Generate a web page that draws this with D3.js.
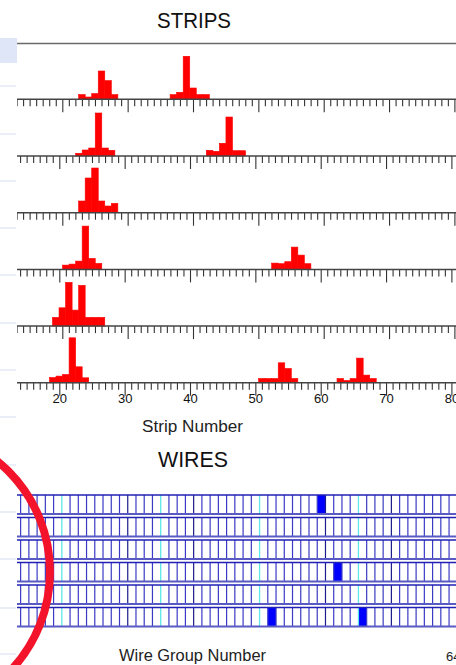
<!DOCTYPE html>
<html>
<head>
<meta charset="utf-8">
<script src="https://cdn.jsdelivr.net/npm/d3@7"></script>
<style>
  html, body { margin: 0; padding: 0; background: #ffffff; }
  svg { display: block; }
</style>
</head>
<body>
<script>
// ---- Strip charge per cathode layer (strip number, collected charge) ----
const layer1Strips = [23, 24, 25, 26, 27, 28, 37, 38, 39, 40, 41, 42];
const layer1Charge = [4.7, 2.3, 5.7, 28.3, 18.7, 4.7, 4.7, 7, 43, 11.3, 4.7, 4.7];
const layer2Strips = [23, 24, 25, 26, 27, 28, 43, 44, 45, 46, 47, 48];
const layer2Charge = [2.7, 6, 8, 43, 8, 5.7, 5.7, 4.7, 12.7, 39, 5.3, 5.3];
const layer3Strips = [23, 24, 25, 26, 27, 28];
const layer3Charge = [11.7, 34.7, 44.7, 11.7, 6.7, 9.3];
const layer4Strips = [21, 22, 23, 24, 25, 26, 53, 54, 55, 56, 57, 58];
const layer4Charge = [4.3, 5.3, 8.3, 43.3, 11, 6, 6.3, 5.7, 7.7, 22.3, 14.3, 5.7];
const layer5Strips = [19, 20, 21, 22, 23, 24, 25, 26];
const layer5Charge = [8.7, 18.3, 43.7, 16, 40.7, 8.7, 8.7, 8.7];
const layer6Strips = [19, 20, 21, 22, 23, 24, 51, 52, 53, 54, 55, 56, 63, 64, 65, 66, 67, 68];
const layer6Charge = [5.3, 6.7, 8.3, 45, 16, 5, 4.3, 4.3, 4.3, 20, 14.3, 4.3, 4.3, 2.3, 4.3, 24.7, 7.7, 4.3];

const stripTickLabels = [20, 30, 40, 50, 60, 70, 80];

// ---- Anode wire groups that fired, per layer ----
const layer1Wires = [48];
const layer2Wires = [];
const layer3Wires = [];
const layer4Wires = [50];
const layer5Wires = [];
const layer6Wires = [42, 53];
const wireSectorEdges = [4, 16, 28, 40, 52, 64];
const wireGroupCount = 64;

const stripLayers = [
  [layer1Strips, layer1Charge], [layer2Strips, layer2Charge], [layer3Strips, layer3Charge],
  [layer4Strips, layer4Charge], [layer5Strips, layer5Charge], [layer6Strips, layer6Charge]
];
const wireLayers = [layer1Wires, layer2Wires, layer3Wires, layer4Wires, layer5Wires, layer6Wires];

const W = 456, H = 665;
const FONT = "'Liberation Sans', Arial, sans-serif";
const svg = d3.select("body").append("svg").attr("width", W).attr("height", H);

// Side panel decorations on the left margin
svg.append("rect").attr("x", 0).attr("y", 38).attr("width", 17).attr("height", 25).attr("fill", "#dfe6f8");
const sideLines = [86, 134, 181, 228, 275, 323, 370, 417, 465, 512, 559, 608, 654];
svg.selectAll("line.side").data(sideLines).join("line")
  .attr("x1", 0).attr("x2", 16).attr("y1", d => d).attr("y2", d => d)
  .attr("stroke", "#e2e8f7").attr("stroke-width", 1.5);

// Clip region of the event display
svg.append("clipPath").attr("id", "clip").append("rect")
  .attr("x", 17).attr("y", 0).attr("width", W - 17).attr("height", H);
const g = svg.append("g").attr("clip-path", "url(#clip)");

// ---------------- STRIPS ----------------
g.append("text").attr("x", 194).attr("y", 27.5).attr("text-anchor", "middle")
  .attr("font-family", FONT).attr("font-size", 22).attr("fill", "#111")
  .attr("textLength", 74).attr("lengthAdjust", "spacingAndGlyphs").text("STRIPS");
g.append("line").attr("x1", 17).attr("x2", W).attr("y1", 43.5).attr("y2", 43.5)
  .attr("stroke", "#6a6a6a").attr("stroke-width", 1.6);

const rowPitch = 56.7, firstBase = 99.3;
const pxPerStrip = 6.535;
const yq = d3.scaleLinear().domain([0, 45]).range([0, 45]);

stripLayers.forEach(([strips, charge], i) => {
  const base = firstBase + i * rowPitch;
  const x0 = (i % 2 === 0) ? 62.3 : 59.3;
  const xs = d3.scaleLinear().domain([20, 80]).range([x0, x0 + 60 * pxPerStrip]);
  const row = g.append("g");

  row.selectAll("rect").data(strips.map((s, k) => ({ s, q: charge[k] }))).join("rect")
    .attr("x", d => xs(d.s - 0.5))
    .attr("width", d => xs(d.s + 0.5) - xs(d.s - 0.5))
    .attr("y", d => base - yq(d.q))
    .attr("height", d => yq(d.q))
    .attr("fill", "#ff0000")
    .attr("stroke", "#ff0000").attr("stroke-width", 0.6);

  const minor = d3.range(13, 85).filter(v => v % 10 !== 0);
  const axMinor = d3.axisBottom(xs).tickValues(minor).tickSize(7).tickFormat("");
  const axMajor = d3.axisBottom(xs).tickValues(stripTickLabels).tickSize(13)
    .tickFormat(i === 5 ? d3.format("d") : "");
  const gm = row.append("g").attr("transform", `translate(0,${base})`).call(axMinor);
  const gM = row.append("g").attr("transform", `translate(0,${base})`).call(axMajor);
  [gm, gM].forEach(a => {
    a.select(".domain").remove();
    a.selectAll(".tick line").attr("stroke", "#333").attr("stroke-width", 1.1);
  });
  gM.selectAll(".tick text").attr("font-family", FONT).attr("font-size", 13)
    .attr("fill", "#111").attr("dy", "0.3em").attr("y", 16);
  row.append("line").attr("x1", 17).attr("x2", W).attr("y1", base).attr("y2", base)
    .attr("stroke", "#444").attr("stroke-width", 1.5);
});

g.append("text").attr("x", 192.5).attr("y", 431.5).attr("text-anchor", "middle")
  .attr("font-family", FONT).attr("font-size", 16).attr("fill", "#222")
  .attr("textLength", 101).attr("lengthAdjust", "spacingAndGlyphs").text("Strip Number");

// ---------------- WIRES ----------------
g.append("text").attr("x", 193).attr("y", 466.5).attr("text-anchor", "middle")
  .attr("font-family", FONT).attr("font-size", 22).attr("fill", "#111")
  .attr("textLength", 70).attr("lengthAdjust", "spacingAndGlyphs").text("WIRES");

const xw = d3.scaleLinear().domain([0, wireGroupCount]).range([-70, 457.3]);
const wireTop = 495, wirePitch = 22.5, wireH = 19;
const bounds = d3.range(0, wireGroupCount + 1);

wireLayers.forEach((hits, j) => {
  const top = wireTop + j * wirePitch;
  const row = g.append("g");
  row.selectAll("rect").data(hits).join("rect")
    .attr("x", d => xw(d - 1)).attr("width", d => xw(d) - xw(d - 1))
    .attr("y", top).attr("height", wireH).attr("fill", "#0000ff");
  row.selectAll("line.v").data(bounds).join("line")
    .attr("x1", d => xw(d)).attr("x2", d => xw(d))
    .attr("y1", top).attr("y2", top + wireH)
    .attr("stroke", d => wireSectorEdges.includes(d) ? "#5ee8ea" : (d % 8 === 0 ? "#1c1c8c" : "#3a3ac4"))
    .attr("stroke-width", d => wireSectorEdges.includes(d) ? 1.3 : 1.2);
  row.append("line").attr("x1", 17).attr("x2", W).attr("y1", top).attr("y2", top)
    .attr("stroke", "#2020b4").attr("stroke-width", 1.3);
  row.append("line").attr("x1", 17).attr("x2", W).attr("y1", top + wireH).attr("y2", top + wireH)
    .attr("stroke", "#5a5ac4").attr("stroke-width", 1.8);
});

g.append("text").attr("x", 192.5).attr("y", 661).attr("text-anchor", "middle")
  .attr("font-family", FONT).attr("font-size", 16).attr("fill", "#222")
  .attr("textLength", 147).attr("lengthAdjust", "spacingAndGlyphs").text("Wire Group Number");
g.append("text").attr("x", 446).attr("y", 661).attr("text-anchor", "start")
  .attr("font-family", FONT).attr("font-size", 13).attr("fill", "#222").text(String(wireGroupCount));

// Hand-drawn highlight circle over the wire display
svg.append("circle").attr("cx", -93).attr("cy", 572).attr("r", 143)
  .attr("fill", "none").attr("stroke", "#f3142c").attr("stroke-width", 8);
</script>
</body>
</html>
